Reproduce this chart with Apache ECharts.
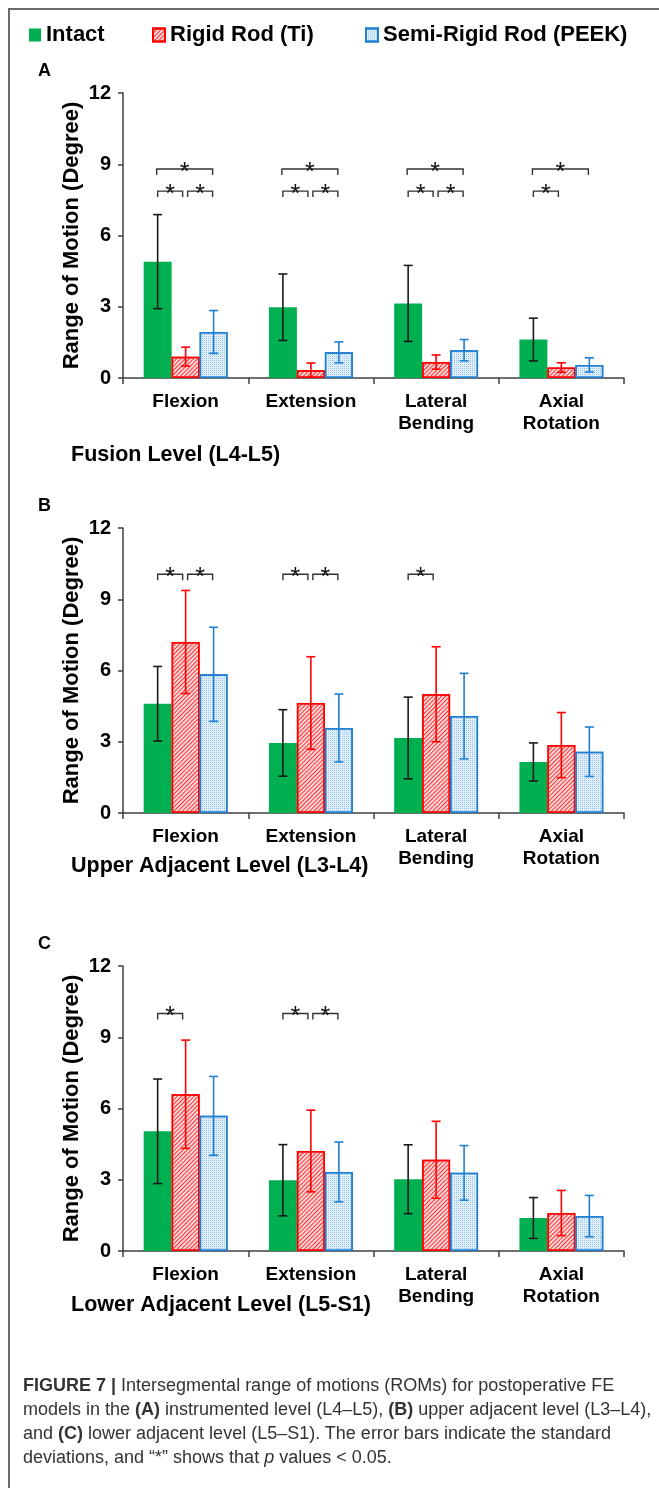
<!DOCTYPE html>
<html>
<head>
<meta charset="utf-8">
<script src="https://cdn.jsdelivr.net/npm/echarts@6/dist/echarts.min.js"></script>
<style>
    html, body {
        margin: 0;
        padding: 0;
        background: #fff;
    }
    #main {
        position: absolute;
        left: 0;
        top: 0;
        width: 659px;
        height: 1488px;
    }
    #frame {
        position: absolute;
        left: 8px;
        top: 8px;
        width: 700px;
        height: 1500px;
        border-top: 2px solid #6a6a6a;
        border-left: 2px solid #6a6a6a;
    }
    #caption {
        position: absolute;
        left: 23px;
        top: 1373px;
        font-family: "Liberation Sans Narrow", "Liberation Sans", Arial, sans-serif;
        font-size: 18px;
        line-height: 24px;
        color: #333;
        white-space: nowrap;
    }
    #caption b { color: #333; }
</style>
</head>
<body>
<div id="frame"></div>
<div id="main"></div>
<div id="caption">
    <b>FIGURE 7 |</b> Intersegmental range of motions (ROMs) for postoperative FE<br>
    models in the <b>(A)</b> instrumented level (L4–L5), <b>(B)</b> upper adjacent level (L3–L4),<br>
    and <b>(C)</b> lower adjacent level (L5–S1). The error bars indicate the standard<br>
    deviations, and “*” shows that <i>p</i> values &lt; 0.05.
</div>
<script>
    var categories = ['Flexion', 'Extension', 'Lateral\nBending', 'Axial\nRotation'];
    var groups = ['Intact', 'Rigid Rod (Ti)', 'Semi-Rigid Rod (PEEK)'];
    var yMin = 0, yMax = 12, yStep = 3;

    // A - fusion level (L4-L5)
    var fusionIntact = [4.9, 2.98, 3.14, 1.62];
    var fusionIntactSd = [1.98, 1.4, 1.6, 0.9];
    var fusionRigid = [0.9, 0.33, 0.67, 0.44];
    var fusionRigidSd = [0.4, 0.3, 0.3, 0.2];
    var fusionSemi = [1.94, 1.08, 1.17, 0.55];
    var fusionSemiSd = [0.9, 0.44, 0.45, 0.3];
    // [category, from bar, to bar, height]
    var fusionStars = [[0, 0, 1, 7.87], [0, 1, 2, 7.87], [0, 0, 2, 8.8],
                       [1, 0, 1, 7.87], [1, 1, 2, 7.87], [1, 0, 2, 8.8],
                       [2, 0, 1, 7.87], [2, 1, 2, 7.87], [2, 0, 2, 8.8],
                       [3, 0, 1, 7.87], [3, 0, 2, 8.8]];

    // B - upper adjacent level (L3-L4)
    var upperIntact = [4.6, 2.95, 3.16, 2.15];
    var upperIntactSd = [1.57, 1.4, 1.72, 0.8];
    var upperRigid = [7.2, 4.63, 5.0, 2.86];
    var upperRigidSd = [2.17, 1.95, 2.0, 1.37];
    var upperSemi = [5.84, 3.58, 4.08, 2.58];
    var upperSemiSd = [1.98, 1.43, 1.8, 1.04];
    var upperStars = [[0, 0, 1, 10.05], [0, 1, 2, 10.05],
                      [1, 0, 1, 10.05], [1, 1, 2, 10.05],
                      [2, 0, 1, 10.05]];

    // C - lower adjacent level (L5-S1)
    var lowerIntact = [5.04, 2.98, 3.02, 1.39];
    var lowerIntactSd = [2.2, 1.5, 1.45, 0.86];
    var lowerRigid = [6.6, 4.21, 3.84, 1.6];
    var lowerRigidSd = [2.28, 1.72, 1.62, 0.95];
    var lowerSemi = [5.69, 3.33, 3.29, 1.47];
    var lowerSemiSd = [1.66, 1.26, 1.15, 0.87];
    var lowerStars = [[0, 0, 1, 10.0],
                      [1, 0, 1, 10.0], [1, 1, 2, 10.0]];

    var FONT = '"Liberation Sans", Arial, sans-serif';
    var GAP = 0.33;
    var axisColor = '#404040';
    var errColors = ['#1a1a1a', '#ff0000', '#1f7fd3'];

    var barStyles = [
        {color: '#00b050'},
        {
            color: '#ffd9d9',
            borderColor: '#ff0000',
            borderWidth: 1.5,
            decal: {
                symbol: 'rect', symbolSize: 1,
                dashArrayX: [1, 0], dashArrayY: [1, 2],
                rotation: -Math.PI / 4,
                color: '#ff3030'
            }
        },
        {
            color: '#e2effa',
            borderColor: '#1f7fd3',
            borderWidth: 1.5,
            decal: {
                symbol: 'rect', symbolSize: 1,
                dashArrayX: [1, 1], dashArrayY: [1, 1],
                color: '#93c4ee'
            }
        }
    ];

    var panels = [
        {label: 'A', title: 'Fusion Level (L4-L5)', top: 93, titleY: 455,
         vals: [fusionIntact, fusionRigid, fusionSemi],
         sds: [fusionIntactSd, fusionRigidSd, fusionSemiSd], stars: fusionStars},
        {label: 'B', title: 'Upper Adjacent Level (L3-L4)', top: 528, titleY: 866,
         vals: [upperIntact, upperRigid, upperSemi],
         sds: [upperIntactSd, upperRigidSd, upperSemiSd], stars: upperStars},
        {label: 'C', title: 'Lower Adjacent Level (L5-S1)', top: 966, titleY: 1305,
         vals: [lowerIntact, lowerRigid, lowerSemi],
         sds: [lowerIntactSd, lowerRigidSd, lowerSemiSd], stars: lowerStars}
    ];

    function barCenter(api, cat, val, k) {
        var bw = api.size([1, 0])[0];
        var barW = bw * (1 - GAP) / 3;
        var c = api.coord([cat, val]);
        return [c[0] + (k - 1) * barW, c[1]];
    }

    function errorSeries(p, k, vals, sds) {
        return {
            type: 'custom', xAxisIndex: p, yAxisIndex: p, silent: true, z: 5,
            data: vals.map(function (v, i) { return [i, v, sds[i]]; }),
            encode: {x: 0, y: 1},
            renderItem: function (params, api) {
                var cat = api.value(0), v = api.value(1), s = api.value(2);
                var x = barCenter(api, cat, v, k)[0];
                var yHi = api.coord([cat, v + s])[1];
                var yLo = api.coord([cat, v - s])[1];
                var st = {stroke: errColors[k], lineWidth: 1.6};
                return {
                    type: 'group', children: [
                        {type: 'line', shape: {x1: x, y1: yHi, x2: x, y2: yLo}, style: st},
                        {type: 'line', shape: {x1: x - 4.5, y1: yHi, x2: x + 4.5, y2: yHi}, style: st},
                        {type: 'line', shape: {x1: x - 4.5, y1: yLo, x2: x + 4.5, y2: yLo}, style: st}
                    ]
                };
            }
        };
    }

    function starSeries(p, stars) {
        return {
            type: 'custom', xAxisIndex: p, yAxisIndex: p, silent: true, z: 6,
            data: stars,
            encode: {x: 0, y: 3},
            renderItem: function (params, api) {
                var cat = api.value(0), i = api.value(1), j = api.value(2), lv = api.value(3);
                var a = barCenter(api, cat, lv, i), b = barCenter(api, cat, lv, j);
                var x1 = a[0] + (j - i === 1 ? 0 : -1), x2 = b[0] - (j - i === 1 ? 3 : 1);
                if (i === 1) { x1 += 2; x2 += 2; }
                var y = a[1];
                return {
                    type: 'group', children: [
                        {type: 'polyline', shape: {points: [[x1, y + 6], [x1, y], [x2, y], [x2, y + 6]]},
                         style: {stroke: '#333', lineWidth: 1.4, fill: null}},
                        {type: 'text', x: (x1 + x2) / 2, y: y + 4,
                         style: {text: '*', fill: '#111', font: '25px ' + FONT, align: 'center', verticalAlign: 'middle'}}
                    ]
                };
            }
        };
    }

    var chart = echarts.init(document.getElementById('main'));

    var grids = [], xAxes = [], yAxes = [], series = [], graphics = [];
    panels.forEach(function (pn, p) {
        grids.push({left: 123, width: 501, top: pn.top, height: 285, outerBoundsMode: 'none'});
        xAxes.push({
            type: 'category', gridIndex: p, data: categories,
            axisLine: {lineStyle: {color: axisColor, width: 1.5}},
            axisTick: {show: true, length: 6, alignWithLabel: false, lineStyle: {color: axisColor, width: 1.5}},
            axisLabel: {interval: 0, fontSize: 19, fontWeight: 'bold', color: '#000', fontFamily: FONT,
                        lineHeight: 22, margin: 13}
        });
        yAxes.push({
            type: 'value', gridIndex: p, min: yMin, max: yMax, interval: yStep,
            name: 'Range of Motion (Degree)', nameLocation: 'middle', nameGap: 40, nameRotate: 90,
            nameMoveOverlap: false,
            nameTextStyle: {fontSize: 22, fontWeight: 'bold', color: '#000', fontFamily: FONT},
            axisLine: {show: true, lineStyle: {color: axisColor, width: 1.5}},
            axisTick: {show: true, length: 5, lineStyle: {color: axisColor, width: 1.5}},
            axisLabel: {fontSize: 20, fontWeight: 'bold', color: '#000', fontFamily: FONT, margin: 12},
            splitLine: {show: false}
        });
        for (var k = 0; k < 3; k++) {
            series.push({
                type: 'bar', name: groups[k], xAxisIndex: p, yAxisIndex: p,
                data: pn.vals[k], barGap: '0%', barCategoryGap: (GAP * 100) + '%',
                itemStyle: barStyles[k], silent: true, emphasis: {disabled: true}
            });
        }
        for (k = 0; k < 3; k++) {
            series.push(errorSeries(p, k, pn.vals[k], pn.sds[k]));
        }
        series.push(starSeries(p, pn.stars));

        graphics.push({
            type: 'text', x: 38, y: pn.top - 22,
            style: {text: pn.label, fill: '#000', font: 'bold 18px ' + FONT, verticalAlign: 'middle'}
        });
        graphics.push({
            type: 'text', x: 71, y: pn.titleY,
            style: {text: pn.title, fill: '#000', font: 'bold 21.5px ' + FONT, verticalAlign: 'middle'}
        });
    });

    var legendLeft = [29, 152, 365];
    var legends = groups.map(function (g, k) {
        return {
            data: [g], left: legendLeft[k], top: 24, padding: 0,
            icon: 'rect', itemWidth: 12, itemHeight: 13, selectedMode: false,
            textStyle: {fontSize: 22, fontWeight: 'bold', color: '#000', fontFamily: FONT}
        };
    });

    chart.setOption({
        animation: false,
        legend: legends,
        grid: grids,
        xAxis: xAxes,
        yAxis: yAxes,
        series: series,
        graphic: graphics
    });
</script>
</body>
</html>
